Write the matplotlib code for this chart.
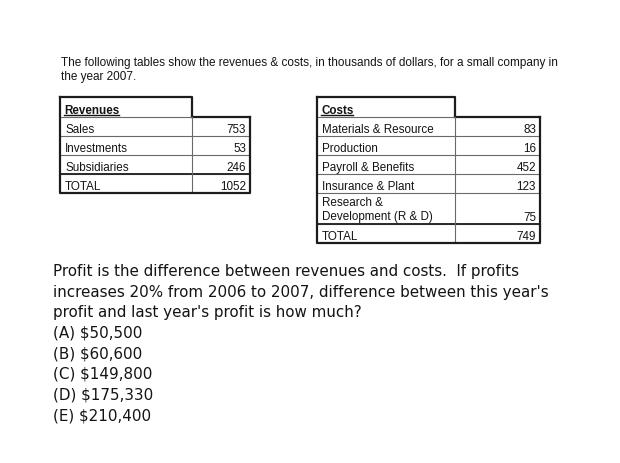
import matplotlib
matplotlib.use('Agg')
import matplotlib.pyplot as plt

# ---- data ----
intro_lines = ["The following tables show the revenues & costs, in thousands of dollars, for a small company in",
               "the year 2007."]
rev_title = "Revenues"
rev_labels = ["Sales", "Investments", "Subsidiaries"]
rev_values = [753, 53, 246]
rev_total = 1052
cost_title = "Costs"
cost_labels = ["Materials & Resource", "Production", "Payroll & Benefits",
               "Insurance & Plant", "Research &\nDevelopment (R & D)"]
cost_values = [83, 16, 452, 123, 75]
cost_total = 749
question_lines = ["Profit is the difference between revenues and costs.  If profits",
                  "increases 20% from 2006 to 2007, difference between this year's",
                  "profit and last year's profit is how much?"]
choices = ["(A) $50,500", "(B) $60,600", "(C) $149,800", "(D) $175,330", "(E) $210,400"]

TXT = '#141414'
FONT = 'DejaVu Sans'
TFONT = 'Liberation Sans'

fig = plt.figure(figsize=(6.2, 4.64), dpi=100)
ax = fig.add_axes([0, 0, 1, 1])
ax.set_xlim(0, 620)
ax.set_ylim(464, 0)
ax.axis('off')
renderer = fig.canvas.get_renderer()


def fit_size(s, target_w, **kw):
    t = ax.text(0, 0, s, fontsize=10, **kw)
    w = t.get_window_extent(renderer).width
    t.remove()
    return 10 * target_w / w


# intro text
fs_intro = fit_size(intro_lines[0], 499, family=TFONT)
for i, s in enumerate(intro_lines):
    ax.text(61, 66 + 14.3 * i, s, fontsize=fs_intro, family=TFONT, color=TXT, va='baseline')

# tables
fs_tab = fit_size("Materials & Resource", 111, family=TFONT)


def draw_table(x0, xm, x1, ytop, title, labels, values, total):
    hh = 20
    dark = dict(color='#1c1c1c', lw=1.6, solid_capstyle='projecting')
    thin = dict(color='#6a6a6a', lw=0.8)
    yh = ytop + hh
    # header
    ax.text(x0 + 4, yh - 4, title, fontsize=fs_tab, family=TFONT, weight='bold', color=TXT, va='baseline')
    tw = ax.text(0, 0, title, fontsize=fs_tab, family=TFONT, weight='bold')
    w = tw.get_window_extent(renderer).width
    tw.remove()
    ax.plot([x0 + 4, x0 + 4 + w], [yh - 2.5, yh - 2.5], color=TXT, lw=1.0)
    ax.plot([x0, xm, xm], [ytop, ytop, yh], **dark)
    ax.plot([xm, x1], [yh, yh], **dark)
    ax.plot([x0, xm], [yh, yh], **thin)
    y = yh
    for lab, val in zip(labels, values):
        nl = lab.count('\n') + 1
        h = 19 + 12 * (nl - 1)
        if nl == 1:
            ax.text(x0 + 5, y + 15, lab, fontsize=fs_tab, family=TFONT, color=TXT, va='baseline')
        else:
            ax.text(x0 + 5, y + 3, lab, fontsize=fs_tab, family=TFONT, color=TXT, va='top', linespacing=1.25)
        ax.text(x1 - 4, y + h - 4, str(val), fontsize=fs_tab, family=TFONT, color=TXT, ha='right', va='baseline')
        y += h
        ax.plot([x0, x1], [y, y], **thin)
    ax.plot([x0, x1], [y, y], color='#2a2a2a', lw=1.4)
    ax.text(x0 + 5, y + 15.5, "TOTAL", fontsize=fs_tab, family=TFONT, color=TXT, va='baseline')
    ax.text(x1 - 4, y + 15.5, str(total), fontsize=fs_tab, family=TFONT, color=TXT, ha='right', va='baseline')
    yb = y + 19
    ax.plot([xm, xm], [yh, yb], **thin)
    ax.plot([x0, x0, x1, x1], [ytop, yb, yb, yh], **dark)


draw_table(60, 192, 250, 98, rev_title, rev_labels, rev_values, rev_total)
draw_table(317, 455, 540, 98, cost_title, cost_labels, cost_values, cost_total)

# question
fs_q = fit_size(question_lines[0], 467, family=FONT)
lines = question_lines + choices
for i, s in enumerate(lines):
    ax.text(53, 276 + 20.6 * i, s, fontsize=fs_q, family=FONT, color=TXT, va='baseline')

fig.savefig('out.png', dpi=100, facecolor='white')
